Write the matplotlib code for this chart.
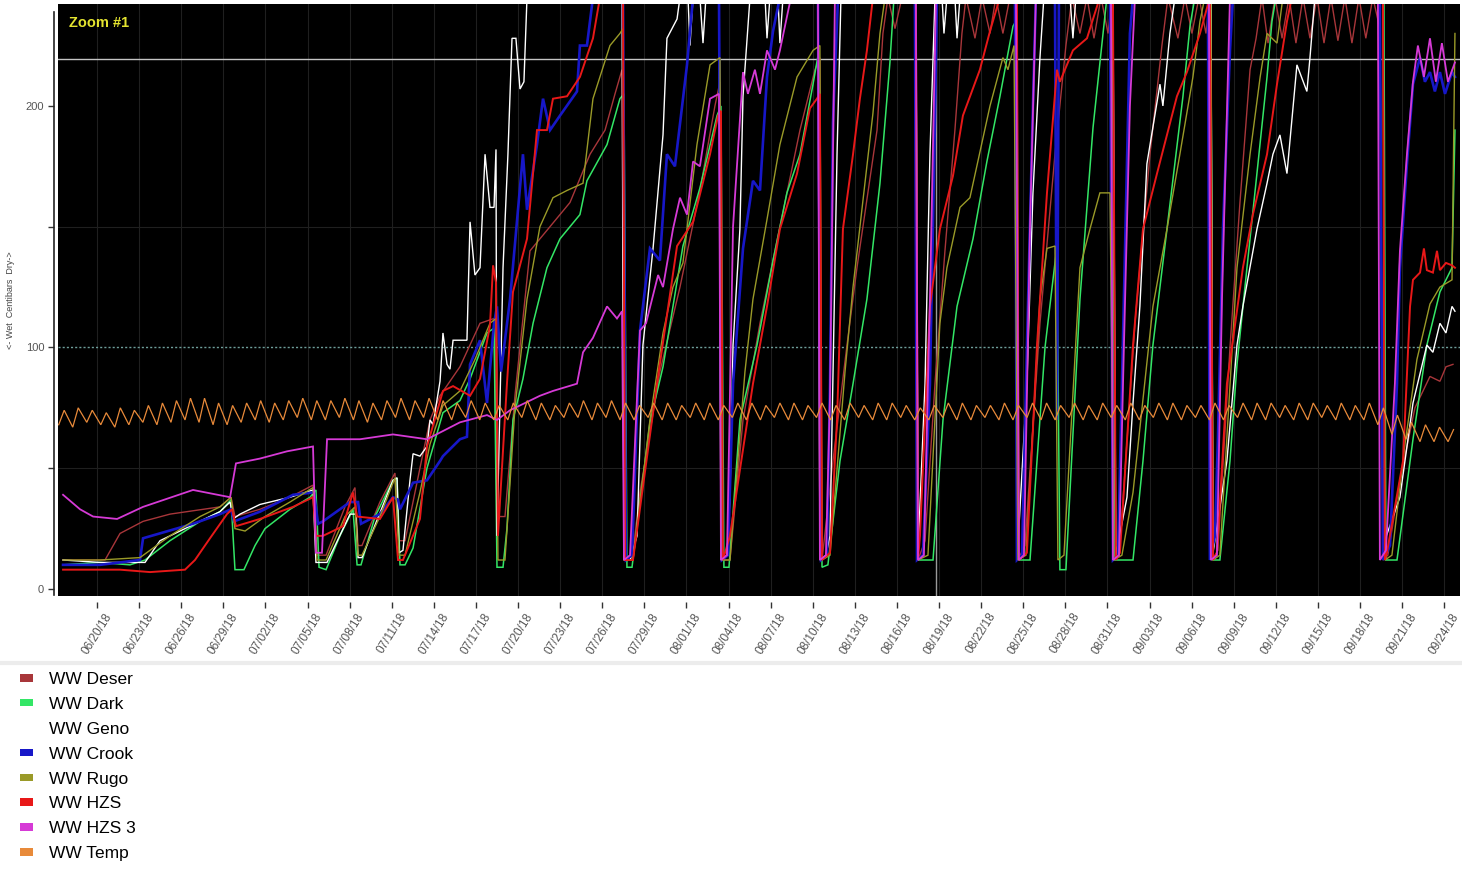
import numpy as np
import pandas as pd
import matplotlib
matplotlib.use("Agg")
import matplotlib.pyplot as plt
from matplotlib.patches import Patch
from matplotlib.lines import Line2D

plt.rcParams['font.family'] = ['Liberation Sans', 'DejaVu Sans']

START = np.datetime64('2018-06-20T00:00')

# ---- data: (days since 06/20/18, centibars) ----
deser = [(-2.42,12),(0.57,12),(1.64,23),(3.28,28),(5.20,31),(8.76,34),(9.55,38),(9.83,30),(11.61,33),
         (13.75,38),(15.39,43),(15.68,14),(16.32,14),(17.67,34),(18.38,42),(18.60,18),(18.88,18),(20.16,36),
         (21.23,48),(21.52,20),(21.95,20),(23.01,50),(23.73,70),(24.44,80),(25.86,92),(27.29,110),(28.29,112),
         (28.50,30),(29.07,30),(29.78,80),(30.85,140),(32.28,150),(33.70,160),(35.13,180),(36.20,190),
         (36.91,205),(37.41,215),(37.55,12),(38.12,12),(38.69,40),(40.11,90),(41.54,125),(42.96,165),
         (44.03,200),(44.39,210),(44.53,12),(45.10,12),(46.03,70),(47.24,110),(48.66,150),(50.09,190),
         (51.16,215),(51.51,220),(51.66,12),(52.44,53),(53.44,101),(54.15,133),(55.58,190),(56.00,230),
         (56.36,245),(56.86,232),(57.36,245),(58.35,245),(58.50,12),(59.00,20),(59.71,85),(60.42,140),
         (61.13,190),(61.63,230),(61.92,245),(62.56,228),(63.06,245),(63.63,230),(64.05,245),(64.55,230),
         (65.05,245),(65.48,245),(65.62,12),(66.12,18),(67.19,110),(68.26,180),(69.04,225),(69.47,245),
         (70.04,230),(70.54,245),(71.04,228),(71.54,245),(72.04,230),(72.32,245),(72.46,12),(72.89,18),
         (73.96,110),(75.03,180),(75.88,225),(76.31,245),(77.02,228),(77.52,245),(78.02,230),(78.52,245),
         (79.02,230),(79.30,245),(79.45,12),(79.87,16),(80.73,100),(81.44,160),(82.16,215),(82.59,228),
         (83.01,245),(83.44,226),(83.94,245),(84.44,228),(84.94,245),(85.43,226),(85.93,245),(86.43,228),
         (86.93,245),(87.43,226),(87.92,245),(88.42,227),(88.92,245),(89.42,226),(89.92,245),(90.41,228),
         (90.91,245),(91.41,232),(91.63,12),(91.98,14),(92.84,45),(93.91,75),(94.98,88),(95.69,86),
         (96.12,92),(96.62,93)]

dark = [(-2.42,10),(0.21,11),(2.35,10),(3.42,12),(5.20,20),(7.34,28),(8.76,32),(9.55,37),(9.83,8),
        (10.47,8),(11.26,18),(11.97,25),(13.75,33),(15.18,38),(15.60,41),(15.82,9),(16.32,8),(17.31,22),
        (18.24,33),(18.53,10),(18.81,10),(19.81,30),(21.09,45),(21.38,46),(21.59,10),(21.95,10),(22.52,17),
        (23.51,50),(24.65,73),(25.86,78),(26.58,87),(27.79,106),(28.29,108),(28.50,9),(28.93,9),(29.21,25),
        (29.64,70),(30.35,87),(31.07,110),(32.06,133),(32.99,145),(34.41,155),(34.91,169),(36.34,184),
        (37.26,203),(37.55,205),(37.76,9),(38.12,9),(39.40,69),(40.33,92),(41.75,142),(42.96,166),
        (44.18,196),(44.46,200),(44.67,9),(45.03,9),(45.81,70),(47.03,101),(48.17,136),(49.16,164),
        (50.09,180),(51.02,209),(51.44,223),(51.66,9),(52.08,10),(52.94,53),(53.87,85),(54.86,120),
        (55.79,168),(56.50,218),(56.79,245),(58.35,245),(58.50,12),(59.57,12),(60.28,70),(61.28,117),
        (62.42,145),(63.41,177),(64.34,204),(65.27,233),(65.55,236),(65.69,12),(66.48,12),(67.55,100),
        (68.40,142),(68.61,8),(69.04,8),(70.04,120),(70.97,191),(71.96,245),(72.39,245),(72.53,12),
        (73.82,12),(74.53,53),(75.24,101),(76.24,149),(77.38,204),(77.88,233),(78.23,245),(79.37,245),
        (79.52,12),(80.01,12),(80.73,53),(81.23,93),(81.94,133),(82.65,172),(83.37,212),(83.72,235),
        (84.01,245),(91.70,245),(91.84,12),(92.63,12),(93.77,62),(94.76,101),(95.69,123),(96.55,133),
        (96.76,190)]

geno = [(-2.42,12),(0.21,11),(3.42,11),(4.49,20),(7.34,28),(8.76,32),(9.48,36),(9.69,29),(10.19,31),
        (11.61,35),(13.75,38),(15.39,41),(15.60,11),(16.39,11),(18.03,31),(18.45,31),(18.60,13),(18.88,13),
        (21.09,45),(21.38,46),(21.52,15),(21.80,16),(22.30,45),(22.52,56),(23.01,55),(23.51,59),(23.73,70),
        (23.94,68),(24.44,86),(24.51,92),(24.65,106),(24.94,93),(25.15,91),(25.37,103),(26.36,103),
        (26.58,152),(26.93,130),(27.29,133),(27.65,180),(28.00,158),(28.29,158),(28.43,182),(28.50,22),
        (28.93,133),(29.28,180),(29.57,228),(29.85,228),(30.14,207),(30.42,210),(30.64,245),(37.41,245),
        (37.55,12),(37.98,12),(38.48,22),(38.90,101),(39.62,141),(40.33,188),(40.61,228),(41.33,236),
        (41.54,245),(42.11,245),(42.25,225),(42.47,245),(42.96,245),(43.18,226),(43.39,245),(44.32,245),
        (44.46,12),(44.89,14),(45.10,38),(45.32,101),(45.81,149),(46.03,204),(46.53,245),(47.60,245),
        (47.74,228),(47.95,245),(48.52,245),(48.66,226),(48.88,245),(51.37,245),(51.51,12),(51.94,14),
        (52.23,22),(52.73,180),(53.01,245),(58.35,245),(58.50,15),(59.00,85),(59.35,180),(59.71,245),
        (60.21,245),(60.35,230),(60.56,245),(61.13,245),(61.28,228),(61.49,245),(65.48,245),(65.62,18),
        (66.26,85),(66.69,164),(67.19,220),(67.47,245),(69.33,245),(69.54,228),(69.75,245),(72.39,245),
        (72.60,14),(73.39,38),(73.82,77),(74.31,117),(74.81,176),(75.74,209),(75.95,200),(76.45,230),
        (76.81,245),(79.37,245),(79.52,15),(80.51,53),(81.23,101),(81.65,117),(82.65,149),(83.37,168),
        (83.79,180),(84.29,188),(84.79,172),(85.50,217),(86.21,206),(86.43,220),(86.78,245),(91.41,245),
        (91.63,18),(92.84,38),(93.77,77),(94.76,101),(95.19,98),(95.69,110),(96.12,106),(96.55,117),
        (96.76,115)]

crook = [(-2.42,10),(0.21,10),(3.06,12),(3.28,21),(6.84,27),(8.76,31),(9.55,33),(9.76,28),(11.61,32),
         (13.97,39),(15.46,40),(15.75,27),(16.10,28),(18.03,36),(18.60,36),(18.81,27),(20.16,31),(21.09,38),
         (21.45,37),(21.59,33),(22.52,44),(23.51,45),(24.44,53),(24.65,55),(25.86,62),(26.36,63),(26.58,93),
         (27.29,103),(27.79,77),(28.29,110),(28.50,117),(28.79,90),(29.43,120),(30.35,180),(30.64,157),
         (31.35,184),(31.78,203),(32.28,190),(32.99,196),(34.20,206),(34.41,225),(34.91,225),(35.34,245),
         (37.48,245),(37.69,12),(38.12,14),(38.69,107),(39.40,141),(40.11,136),(40.61,180),(41.18,175),
         (42.04,217),(42.47,245),(44.32,245),(44.53,12),(44.96,14),(45.32,85),(46.03,141),(46.74,169),
         (47.24,165),(47.74,212),(48.17,231),(48.66,245),(51.37,245),(51.59,12),(52.01,14),(52.23,85),
         (52.44,193),(52.80,245),(58.28,245),(58.43,12),(58.85,14),(59.35,85),(59.71,195),(59.85,245),
         (65.41,245),(65.55,12),(65.91,14),(66.26,100),(66.69,200),(66.90,245),(68.26,245),(68.40,70),
         (68.54,245),(72.18,245),(72.39,12),(72.75,14),(73.17,120),(73.60,230),(73.82,245),(79.16,245),
         (79.30,12),(79.66,22),(79.87,62),(80.23,149),(80.73,223),(80.94,245),(91.41,245),(91.63,12),
         (92.13,18),(92.63,85),(92.84,133),(93.34,176),(93.77,209),(94.27,220),(94.62,210),(94.98,214),
         (95.33,206),(95.69,214),(96.05,205),(96.55,214),(96.76,212)]

rugo = [(-2.42,12),(0.21,12),(3.06,13),(5.20,22),(7.34,30),(8.76,34),(9.55,38),(9.83,25),(10.55,24),
        (11.97,30),(13.75,36),(15.39,42),(15.68,12),(16.32,12),(17.67,30),(18.38,34),(18.60,14),(18.88,14),
        (20.16,30),(21.23,46),(21.52,14),(21.95,14),(23.01,40),(23.73,60),(24.65,76),(25.86,82),(26.93,95),
        (28.00,110),(28.43,112),(28.57,12),(29.07,12),(29.78,75),(30.64,120),(31.56,150),(32.49,162),
        (33.49,165),(34.63,168),(35.34,203),(36.55,225),(37.26,230),(37.48,232),(37.62,12),(38.19,12),
        (39.40,70),(40.33,106),(41.04,125),(41.75,135),(42.75,184),(43.68,217),(44.39,220),(44.53,12),
        (45.10,12),(46.17,90),(46.74,120),(47.74,153),(48.66,184),(49.88,212),(51.02,223),(51.51,225),
        (51.66,12),(52.23,14),(53.30,90),(53.87,125),(54.58,161),(55.29,197),(55.79,230),(56.15,245),
        (58.35,245),(58.50,12),(59.21,14),(60.06,110),(60.56,133),(61.49,158),(62.20,162),(63.63,200),
        (64.55,220),(64.91,215),(65.34,225),(65.62,12),(66.19,14),(67.19,120),(67.69,141),(68.26,142),
        (68.47,12),(68.90,14),(70.04,133),(70.75,149),(71.46,164),(72.18,164),(72.46,12),(73.03,14),
        (73.82,40),(75.24,117),(76.24,149),(77.16,180),(78.09,212),(78.59,235),(78.94,245),(79.37,245),
        (79.52,12),(80.01,14),(81.23,133),(82.16,180),(82.88,212),(83.37,230),(84.08,226),(84.50,245),
        (91.63,245),(91.77,12),(92.27,14),(93.20,60),(94.05,95),(94.98,118),(95.69,125),(96.55,128),
        (96.76,230)]

hzs = [(-2.42,8),(1.64,8),(3.78,7),(6.27,8),(6.98,12),(8.05,21),(9.26,31),(9.62,33),(9.90,26),(11.61,29),
       (13.97,34),(15.39,38),(15.60,22),(16.10,22),(17.53,26),(18.24,40),(18.53,30),(20.16,29),(21.09,38),
       (21.45,12),(21.80,12),(23.01,29),(23.51,59),(24.65,82),(25.37,84),(26.58,80),(27.29,87),(28.00,109),
       (28.22,134),(28.43,127),(28.57,22),(29.21,85),(29.64,123),(30.64,145),(31.35,190),(32.06,190),
       (32.49,203),(33.49,204),(34.41,212),(35.34,228),(35.84,245),(37.48,245),(37.62,12),(38.19,12),
       (39.90,85),(41.33,142),(42.47,152),(43.68,180),(44.25,196),(44.46,198),(44.60,12),(45.10,22),
       (46.74,85),(47.74,117),(48.66,149),(49.88,172),(50.80,199),(51.30,203),(51.51,205),(51.66,12),
       (52.23,15),(52.73,70),(53.15,149),(53.87,180),(54.36,203),(54.86,223),(55.29,245),(58.35,245),
       (58.50,12),(58.64,22),(59.35,117),(60.06,149),(60.99,171),(61.70,196),(62.91,215),(63.63,231),
       (64.34,245),(65.55,245),(65.69,12),(66.26,15),(66.98,101),(67.69,164),(68.40,215),(68.61,210),
       (69.54,223),(70.54,228),(71.46,245),(72.39,245),(72.60,12),(72.89,15),(73.82,101),(74.53,149),
       (75.53,172),(76.24,188),(76.95,204),(77.66,214),(78.59,230),(79.30,245),(79.52,12),(79.80,15),
       (80.51,85),(81.65,133),(82.36,155),(83.37,180),(84.08,209),(84.79,235),(85.14,245),(91.63,245),
       (91.77,12),(91.91,15),(93.06,53),(93.56,117),(93.77,128),(94.27,131),(94.55,141),(94.76,132),
       (95.19,131),(95.48,140),(95.69,132),(96.12,135),(96.55,134),(96.76,133)]

hzs3 = [(-2.42,39),(-1.21,33),(-0.28,30),(1.43,29),(3.28,34),(6.84,41),(9.48,38),(9.90,52),(11.61,54),
        (13.54,57),(15.39,59),(15.60,15),(16.03,15),(16.39,62),(18.74,62),(21.09,64),(23.51,62),(25.86,69),
        (27.79,72),(28.50,70),(29.43,74),(31.56,80),(32.49,82),(34.20,85),(34.63,98),(35.34,104),
        (36.34,117),(37.05,112),(37.41,115),(37.55,12),(37.98,14),(38.69,107),(39.12,110),(39.98,130),
        (40.33,125),(41.04,149),(41.54,162),(42.04,155),(42.47,177),(42.96,175),(43.68,203),(44.32,205),
        (44.46,12),(44.89,14),(45.32,150),(46.03,214),(46.38,205),(46.88,215),(47.24,205),(47.74,223),
        (48.31,215),(48.66,223),(49.45,245),(51.37,245),(51.51,12),(51.94,14),(52.23,80),(52.58,245),
        (58.35,245),(58.50,12),(58.92,14),(59.35,120),(59.78,245),(65.48,245),(65.69,12),(66.05,14),
        (66.48,150),(66.90,245),(72.25,245),(72.39,12),(72.82,14),(73.17,100),(73.60,200),(73.96,245),
        (79.23,245),(79.37,12),(79.80,14),(80.16,120),(80.73,245),(91.27,245),(91.41,12),(91.84,16),
        (92.48,85),(92.84,140),(93.34,180),(93.77,210),(94.12,225),(94.55,212),(94.98,228),(95.40,210),
        (95.83,226),(96.26,210),(96.76,218)]

# daily temperature extremes, days -3 .. 96
temp_day0 = -3
temp_hi = [74, 75, 74,
           73, 75, 74, 76, 77, 78, 79, 79, 77, 76,
           77, 78, 77, 78, 79, 78, 78, 79, 78, 77,
           78, 79, 78, 79, 78, 77, 78, 77, 76, 77,
           78, 77, 76, 77, 78, 77, 78, 77, 76, 77,
           77, 76, 77, 77, 76, 77, 77, 76, 77, 77,
           76, 77, 76, 77, 76, 77, 77, 76, 75, 76,
           77, 77, 76, 76, 77, 76, 77, 77, 76, 77,
           76, 77, 76, 77, 76, 77, 77, 76, 76, 77,
           76, 77, 77, 77, 76, 77, 77, 76, 77, 76,
           77, 75, 72, 69, 68, 67, 66]
temp_lo = [68, 67, 69,
           68, 67, 68, 69, 68, 69, 70, 69, 68, 68,
           69, 70, 69, 70, 71, 70, 70, 71, 70, 69,
           70, 71, 70, 71, 70, 70, 71, 70, 70, 70,
           71, 70, 70, 71, 71, 70, 71, 70, 70, 71,
           70, 70, 71, 70, 70, 71, 70, 70, 71, 70,
           70, 71, 70, 70, 71, 70, 70, 71, 70, 70,
           71, 70, 70, 71, 70, 70, 71, 70, 70, 71,
           70, 70, 71, 70, 70, 71, 70, 70, 71, 70,
           70, 71, 70, 70, 71, 70, 70, 71, 70, 70,
           70, 68, 64, 62, 61, 61, 61]

series_names = ['WW Deser', 'WW Dark', 'WW Geno', 'WW Crook', 'WW Rugo', 'WW HZS', 'WW HZS 3', 'WW Temp']
series_colors = ['#a8363a', '#33e666', '#ffffff', '#1717c8', '#9a9a28', '#e81818', '#d63ad6', '#e88a3a']
series_widths = [1.0, 1.1, 1.0, 1.9, 1.0, 1.4, 1.3, 0.9]

tick_labels = ['06/20/18', '06/23/18', '06/26/18', '06/29/18', '07/02/18', '07/05/18', '07/08/18',
               '07/11/18', '07/14/18', '07/17/18', '07/20/18', '07/23/18', '07/26/18', '07/29/18',
               '08/01/18', '08/04/18', '08/07/18', '08/10/18', '08/13/18', '08/16/18', '08/19/18',
               '08/22/18', '08/25/18', '08/28/18', '08/31/18', '09/03/18', '09/06/18', '09/09/18',
               '09/12/18', '09/15/18', '09/18/18', '09/21/18', '09/24/18']
y_ticks = [0, 50, 100, 150, 200]
y_ticklabels = ['0', '', '100', '', '200']
upper_ref = 219.5
lower_ref = 100
marker_day = 59.78


def to_dt(days):
    return START + np.round(np.asarray(days, dtype=float) * 86400).astype('timedelta64[s]')


# temperature samples: low in the morning, high in the afternoon
t_days, t_vals = [], []
for i, (lo, hi) in enumerate(zip(temp_lo, temp_hi)):
    day = temp_day0 + i
    t_days += [day + 0.27, day + 0.66]
    t_vals += [lo, hi]

series_data = [deser, dark, geno, crook, rugo, hzs, hzs3, list(zip(t_days, t_vals))]

W, H = 1462, 869
fig = plt.figure(figsize=(W / 100, H / 100), dpi=100, facecolor='white')
ax = fig.add_axes([58 / W, 1 - 596 / H, (1460 - 58) / W, (596 - 4) / H])
ax.set_facecolor('black')

# faint grid
tick_dates = pd.to_datetime(tick_labels, format='%m/%d/%y')
for t in tick_dates:
    ax.axvline(t, color='#1f1f1f', lw=0.8, zorder=0)
for yv in [50, 150]:
    ax.axhline(yv, color='#1f1f1f', lw=0.8, zorder=0)

ax.axhline(upper_ref, color='#c4c4c4', lw=1.0, zorder=1)
ax.axhline(lower_ref, color='#6e9e9a', lw=1.0, ls=(0, (1.5, 1.5)), zorder=1)
ax.axvline(to_dt([marker_day])[0], color='#9a9a9a', lw=1.0, zorder=1)

for data, c, lw in zip(series_data, series_colors, series_widths):
    d, v = zip(*data)
    ax.plot(to_dt(d), v, color=c, lw=lw, zorder=2, solid_joinstyle='miter')

ax.set_xlim(to_dt([-2.78, 97.12]))
ax.set_ylim(-2.9, 242.2)

for s in ['top', 'right']:
    ax.spines[s].set_visible(False)
ax.spines['bottom'].set_position(('outward', 4))
ax.spines['left'].set_position(('outward', 3))
ax.spines['bottom'].set_bounds(to_dt([-2.3])[0], to_dt([96.8])[0])
ax.spines['left'].set_bounds(-2.5, 239)
for s in ['bottom', 'left']:
    ax.spines[s].set_color('#222222')
    ax.spines[s].set_linewidth(1.2)

ax.tick_params(axis='x', length=4, width=1, color='#333333', pad=19, labelsize=8.5,
               labelcolor='#555555', labelrotation=58)
ax.tick_params(axis='y', length=4, width=1, color='#333333', pad=3, labelsize=8,
               labelcolor='#555555')
ax.set_xticks(tick_dates)
ax.set_xticklabels(tick_labels)
ax.set_yticks(y_ticks)
ax.set_yticklabels(y_ticklabels)
for lab in ax.get_xticklabels():
    lab.set_rotation(58)
    lab.set_ha('center')
    lab.set_va('center')
    lab.set_rotation_mode('anchor')

ax.set_ylabel('<- Wet  Centibars  Dry->', fontsize=6.5, color='#444444')
ax.yaxis.set_label_coords(-0.031, 0.5)

ax.text(0.008, 0.968, 'Zoom #1', transform=ax.transAxes, color='#e4e430', fontsize=10.5,
        fontweight='bold', va='center', ha='left')

# separator band above legend
fig.add_artist(Line2D([0, 1], [1 - 663 / H, 1 - 663 / H], transform=fig.transFigure,
                      color='#ececec', lw=3))

handles = [Patch(facecolor=c, edgecolor='none') for c in series_colors]
fig.legend(handles, series_names, loc='upper left', bbox_to_anchor=(20 / W, 1 - 672 / H),
           frameon=False, fontsize=12.5, handlelength=0.72, handleheight=0.3,
           handletextpad=0.95, labelspacing=0.57, borderpad=0, borderaxespad=0)

fig.savefig('out.png', dpi=100, facecolor='white')
